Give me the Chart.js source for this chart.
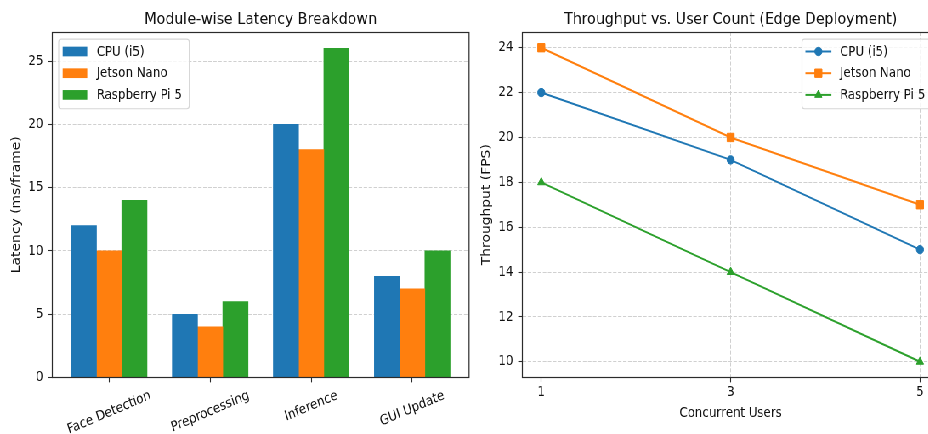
<!DOCTYPE html>
<html><head><meta charset="utf-8">
<script src="https://cdn.jsdelivr.net/npm/chart.js@4.4.1/dist/chart.umd.min.js"></script>
<style>
html,body{margin:0;padding:0;background:#fff;overflow:hidden;width:928px;height:434px;}
#wrap{position:absolute;left:0;top:0;width:1120px;height:434px;background:#fff;transform:scaleX(0.85);transform-origin:0 0;}
#c1{position:absolute;left:0;top:0;}
#c2{position:absolute;left:560px;top:0;}
</style></head><body>
<div id="wrap"><canvas id="c1" width="560" height="434"></canvas><canvas id="c2" width="560" height="434"></canvas></div>
<script>
// ---- data ----
const categories = ['Face Detection', 'Preprocessing', 'Inference', 'GUI Update'];
const devices = ['CPU (i5)', 'Jetson Nano', 'Raspberry Pi 5'];
const latencyCPU = [12, 5, 20, 8];
const latencyJetson = [10, 4, 18, 7];
const latencyPi = [14, 6, 26, 10];
const latencyTicks = [0, 5, 10, 15, 20, 25];
const users = [1, 3, 5];
const fpsCPU = [22, 19, 15];
const fpsJetson = [24, 20, 17];
const fpsPi = [18, 14, 10];
const fpsTicks = [10, 12, 14, 16, 18, 20, 22, 24];
const leftTitle = 'Module-wise Latency Breakdown';
const rightTitle = 'Throughput vs. User Count (Edge Deployment)';

// ---- style ----
const FONT = "'DejaVu Sans', sans-serif";
const TICK_PX = 13.9, TITLE_PX = 16.7;
const colors = ['#1f77b4', '#ff7f0e', '#2ca02c'];
const pointStyles = ['circle', 'rect', 'triangle'];
const pointRadii = [4.2, 5.9, 4.9];
const frameColor = '#2b2b2b';
const gridColor = '#d0d0d0';
const textColor = '#111111';
const gridDash = [4.1, 1.8];

Chart.defaults.font.family = FONT;
Chart.defaults.font.size = TICK_PX;
Chart.defaults.color = textColor;
Chart.defaults.animation = false;

function drawMarker(ctx, style, r, x, y, color) {
  ctx.save();
  ctx.fillStyle = color; ctx.strokeStyle = color; ctx.lineWidth = 1;
  ctx.beginPath();
  if (style === 'circle') { ctx.arc(x, y, r, 0, Math.PI * 2); }
  else if (style === 'rect') { const s = Math.SQRT1_2 * r; ctx.rect(x - s, y - s, 2 * s, 2 * s); }
  else if (style === 'triangle') {
    let rad = 0;
    ctx.moveTo(x + Math.sin(rad) * r, y - Math.cos(rad) * r);
    rad += 2 * Math.PI / 3; ctx.lineTo(x + Math.sin(rad) * r, y - Math.cos(rad) * r);
    rad += 2 * Math.PI / 3; ctx.lineTo(x + Math.sin(rad) * r, y - Math.cos(rad) * r);
    ctx.closePath();
  }
  ctx.fill(); ctx.stroke();
  ctx.restore();
}

function roundRect(ctx, x, y, w, h, r) {
  ctx.beginPath();
  ctx.moveTo(x + r, y);
  ctx.lineTo(x + w - r, y); ctx.quadraticCurveTo(x + w, y, x + w, y + r);
  ctx.lineTo(x + w, y + h - r); ctx.quadraticCurveTo(x + w, y + h, x + w - r, y + h);
  ctx.lineTo(x + r, y + h); ctx.quadraticCurveTo(x, y + h, x, y + h - r);
  ctx.lineTo(x, y + r); ctx.quadraticCurveTo(x, y, x + r, y);
  ctx.closePath();
}

const mplPlugin = {
  id: 'mpl',
  afterDraw(chart, args, opts) {
    const ctx = chart.ctx, a = chart.chartArea;
    ctx.save();
    // frame (all four spines)
    ctx.strokeStyle = frameColor; ctx.lineWidth = 1.2;
    const T = Math.floor(a.top) + 0.5, B = Math.floor(a.bottom) + 0.5;
    ctx.strokeRect(a.left, T, a.right - a.left, B - T);
    // title
    ctx.fillStyle = textColor;
    ctx.font = TITLE_PX + 'px ' + FONT;
    ctx.textAlign = 'center'; ctx.textBaseline = 'alphabetic';
    ctx.fillText(opts.title, (a.left + a.right) / 2, 23.5);
    // rotated category labels
    if (opts.rotLabels) {
      const xs = chart.scales.x;
      const ang = opts.rotLabels.angle * Math.PI / 180;
      ctx.font = TICK_PX + 'px ' + FONT;
      ctx.textAlign = 'center'; ctx.textBaseline = 'middle';
      opts.rotLabels.labels.forEach((lab, i) => {
        const px = xs.getPixelForValue(i);
        const tw = ctx.measureText(lab).width;
        const th = 1.164 * TICK_PX;
        const bh = tw * Math.sin(ang) + th * Math.cos(ang);
        const cy = opts.rotLabels.top + bh / 2;
        ctx.save();
        ctx.translate(px, cy);
        ctx.rotate(-ang);
        ctx.fillText(lab, 0, 0);
        ctx.restore();
      });
    }
    // legend
    if (opts.legend) {
      const lg = opts.legend;
      const w = 153.6, h = 69.7;
      const x0 = lg.corner === 'left' ? a.left + 7.5 : a.right - 7.5 - w;
      const y0 = a.top + 6.6;
      roundRect(ctx, x0, y0 + 0.5, w, h, 3);
      ctx.fillStyle = 'rgba(255,255,255,0.8)'; ctx.fill();
      ctx.strokeStyle = '#d6d6d6'; ctx.lineWidth = 1.1; ctx.stroke();
      ctx.font = TICK_PX + 'px ' + FONT;
      ctx.textAlign = 'left'; ctx.textBaseline = 'middle';
      lg.items.forEach((it, i) => {
        const y = y0 + 12.9 + i * 21.7;
        if (it.kind === 'patch') {
          ctx.fillStyle = it.color;
          ctx.fillRect(x0 + 4.7, y - 4.85, 28.9, 9.7);
        } else {
          ctx.strokeStyle = it.color; ctx.lineWidth = 2;
          ctx.beginPath(); ctx.moveTo(x0 + 4, y); ctx.lineTo(x0 + 34.6, y); ctx.stroke();
          drawMarker(ctx, it.pointStyle, it.radius, x0 + 19.3, y, it.color);
        }
        ctx.fillStyle = textColor;
        ctx.fillText(it.label, x0 + 44.7, y + 0.5);
      });
    }
    ctx.restore();
  }
};

function fixTicks(values) {
  return (scale) => { scale.ticks = values.map(v => ({ value: v })); };
}

const tickGrid = { drawTicks: true, tickLength: 4.9, tickColor: frameColor, tickWidth: 1.1, tickBorderDash: [] };

// ---- left: grouped bar chart ----
const latencySeries = [latencyCPU, latencyJetson, latencyPi];
const barOffsets = [-0.25, 0, 0.25];
new Chart(document.getElementById('c1'), {
  type: 'bar',
  data: {
    datasets: latencySeries.map((vals, d) => ({
      label: devices[d],
      data: vals.map((v, i) => ({ x: i + barOffsets[d], y: v })),
      backgroundColor: colors[d],
      borderWidth: 0,
      grouped: false,
      categoryPercentage: 1,
      barPercentage: 1
    }))
  },
  options: {
    responsive: false,
    animation: false,
    layout: { padding: { left: 0, right: 8.2, top: 32, bottom: 0 } },
    plugins: {
      legend: { display: false }, tooltip: { enabled: false },
      mpl: {
        title: leftTitle,
        rotLabels: { labels: categories, top: 387.5, angle: 20 },
        legend: { corner: 'left', items: devices.map((l, d) => ({ label: l, color: colors[d], kind: 'patch' })) }
      }
    },
    scales: {
      x: {
        type: 'linear', min: -0.5625, max: 3.5625, offset: false,
        afterBuildTicks: fixTicks([0, 1, 2, 3]),
        afterFit: (s) => { s.height = 56.5; },
        ticks: { display: false },
        grid: Object.assign({ display: true, offset: false, drawOnChartArea: false }, tickGrid),
        border: { display: false }
      },
      y: {
        type: 'linear', min: 0, max: 27.3,
        afterBuildTicks: fixTicks(latencyTicks),
        afterFit: (s) => { s.width = 61.5; },
        ticks: { padding: 5.7, color: textColor, font: { size: TICK_PX } },
        grid: Object.assign({ color: gridColor, lineWidth: 1 }, tickGrid),
        border: { display: false, dash: gridDash },
        title: { display: true, text: 'Latency (ms/frame)', color: textColor, font: { size: TICK_PX }, padding: { top: 11, bottom: 0 } }
      }
    }
  },
  plugins: [mplPlugin]
});

// ---- right: line chart ----
const fpsSeries = [fpsCPU, fpsJetson, fpsPi];
new Chart(document.getElementById('c2'), {
  type: 'line',
  data: {
    datasets: fpsSeries.map((vals, d) => ({
      label: devices[d],
      data: vals.map((v, i) => ({ x: users[i], y: v })),
      borderColor: colors[d],
      backgroundColor: colors[d],
      borderWidth: 2,
      pointStyle: pointStyles[d],
      pointRadius: pointRadii[d],
      pointBorderWidth: 1,
      pointBorderColor: colors[d],
      pointBackgroundColor: colors[d],
      fill: false,
      tension: 0
    }))
  },
  options: {
    responsive: false,
    animation: false,
    layout: { padding: { left: 0, right: 15.4, top: 32, bottom: 0 } },
    plugins: {
      legend: { display: false }, tooltip: { enabled: false },
      mpl: {
        title: rightTitle,
        legend: { corner: 'right', items: devices.map((l, d) => ({ label: l, color: colors[d], kind: 'line', pointStyle: pointStyles[d], radius: pointRadii[d] })) }
      }
    },
    scales: {
      x: {
        type: 'linear', min: 0.8, max: 5.2, offset: false,
        afterBuildTicks: fixTicks(users),
        afterFit: (s) => { s.height = 56.5; },
        ticks: { padding: 1.3, color: textColor, font: { size: TICK_PX } },
        grid: Object.assign({ color: gridColor, lineWidth: 1 }, tickGrid),
        border: { display: false, dash: gridDash },
        title: { display: true, text: 'Concurrent Users', color: textColor, font: { size: TICK_PX }, padding: { top: 0, bottom: 12.7 } }
      },
      y: {
        type: 'linear', min: 9.3, max: 24.7,
        afterBuildTicks: fixTicks(fpsTicks),
        afterFit: (s) => { s.width = 54.5; },
        ticks: { padding: 5.7, color: textColor, font: { size: TICK_PX } },
        grid: Object.assign({ color: gridColor, lineWidth: 1 }, tickGrid),
        border: { display: false, dash: gridDash },
        title: { display: true, text: 'Throughput (FPS)', color: textColor, font: { size: TICK_PX }, padding: { top: 4.25, bottom: 0 } }
      }
    }
  },
  plugins: [mplPlugin]
});
</script>
</body></html>
